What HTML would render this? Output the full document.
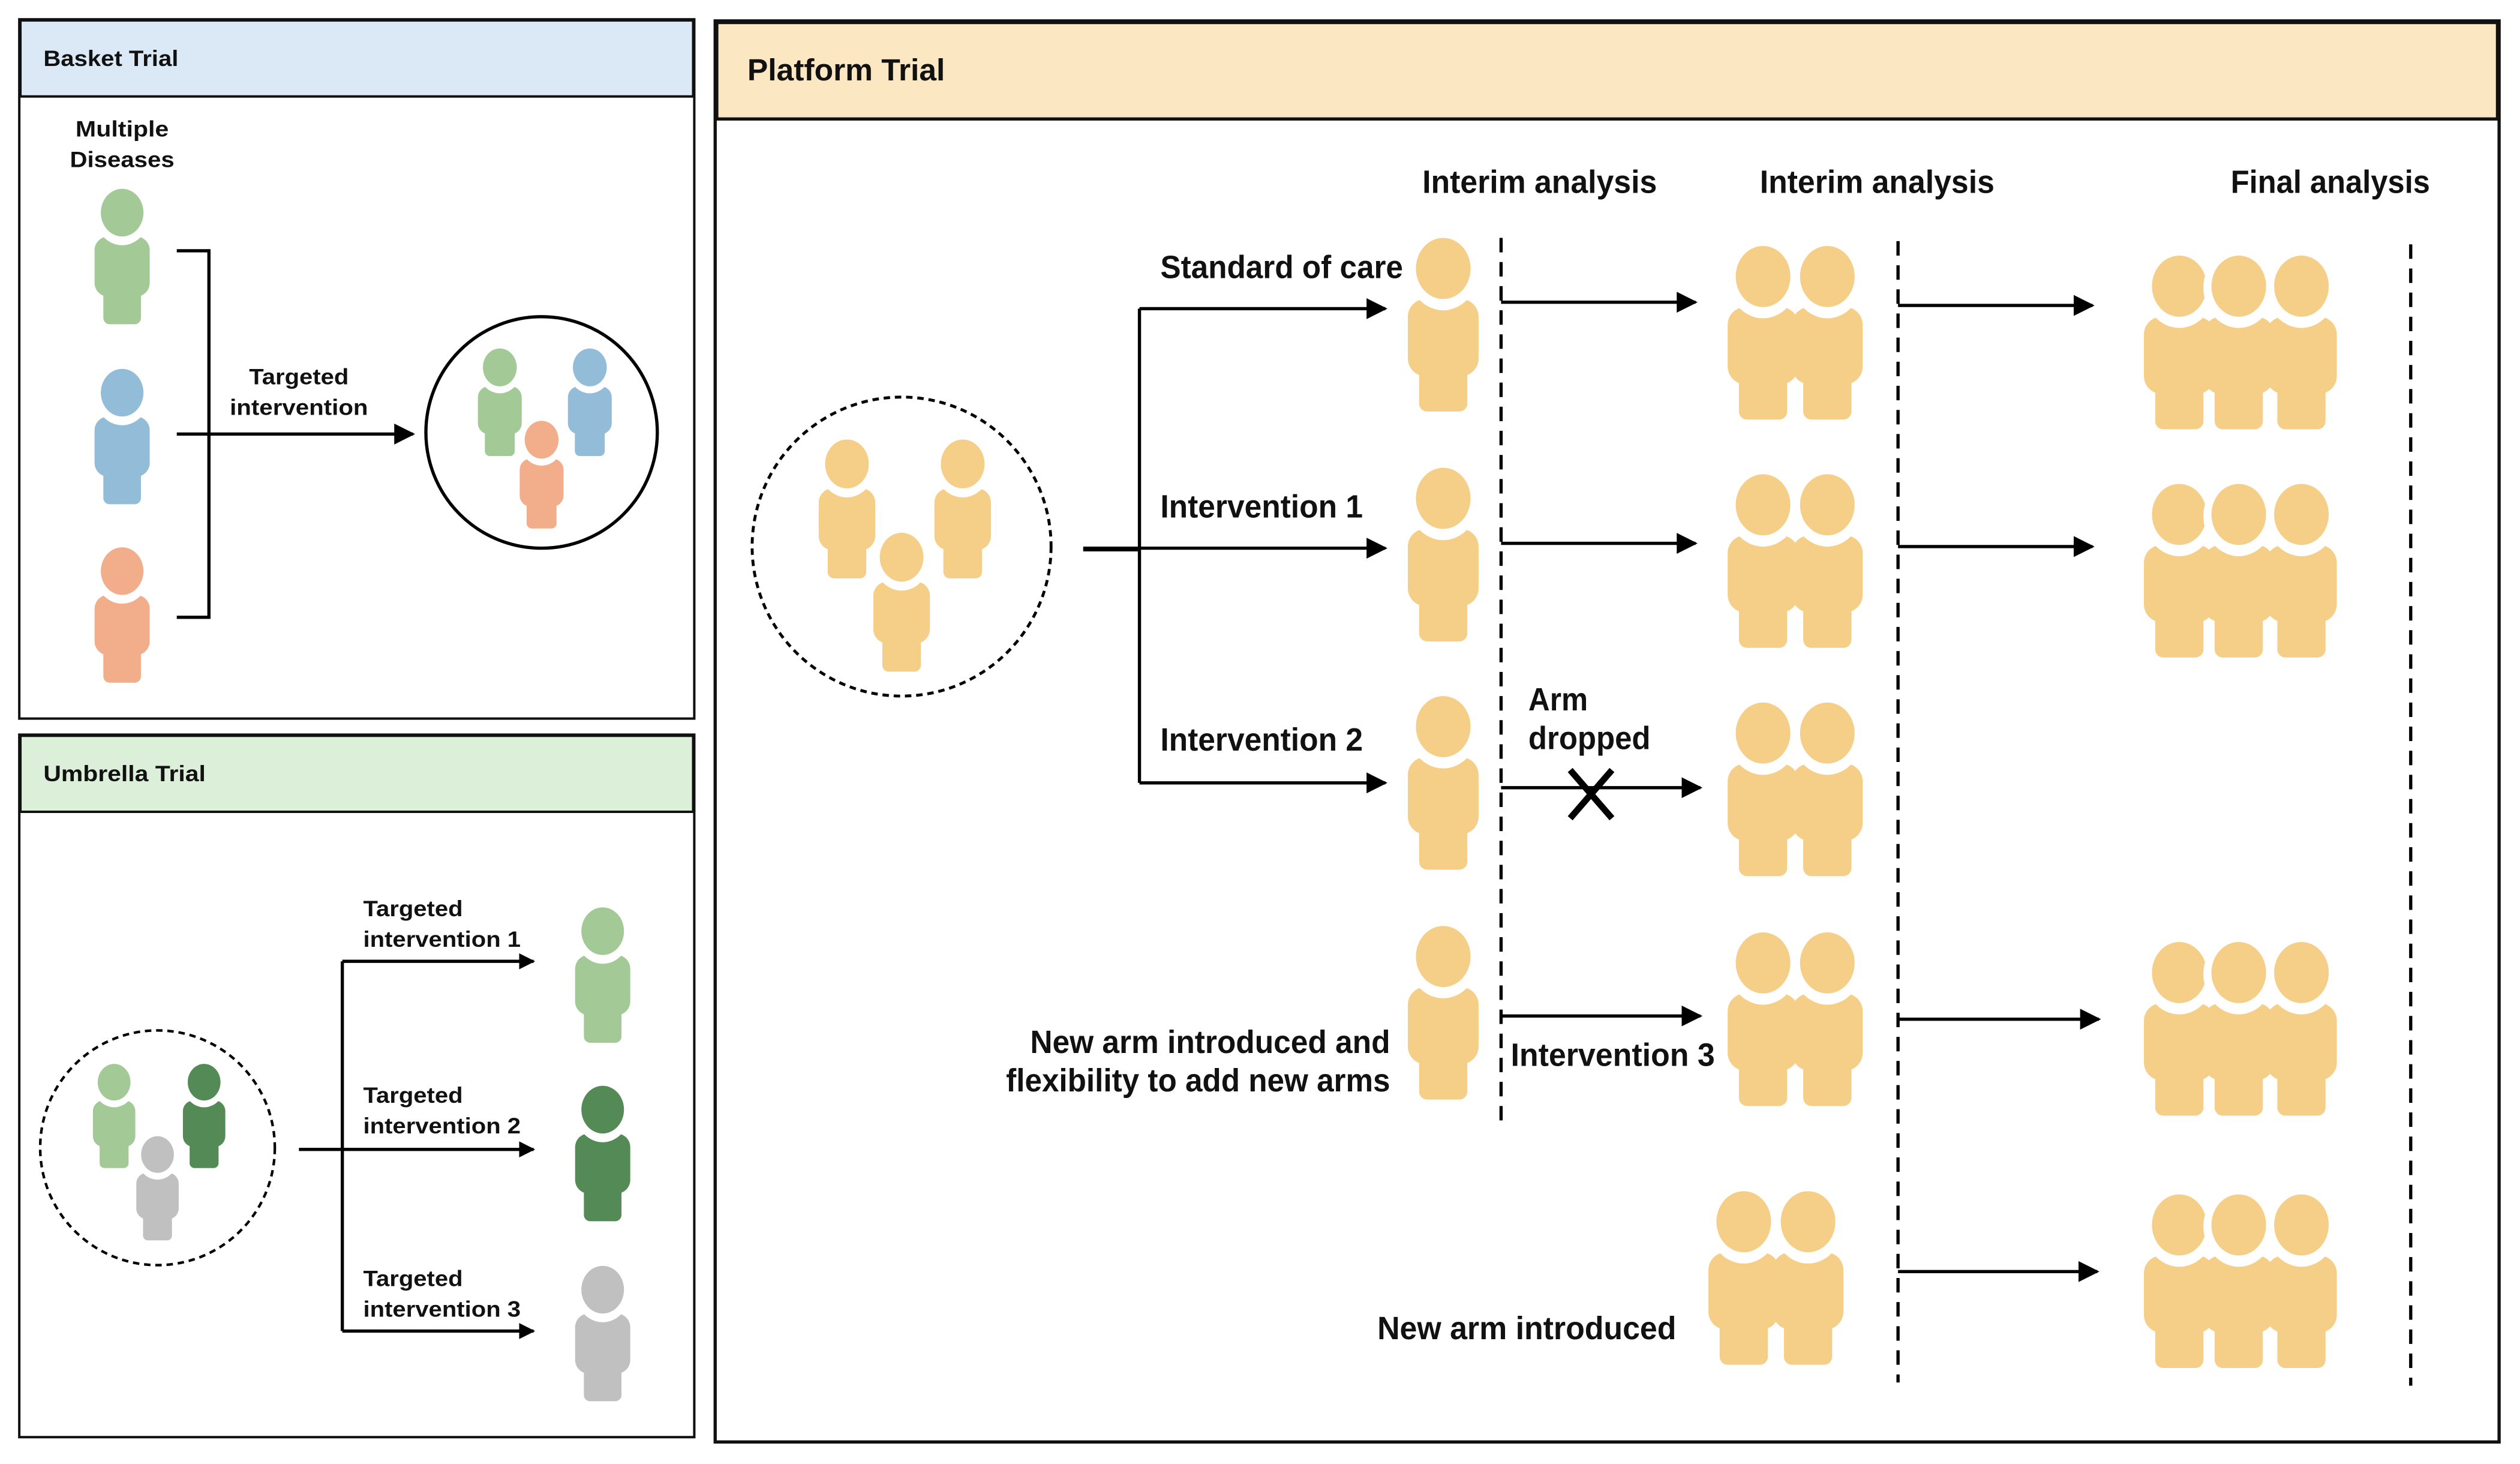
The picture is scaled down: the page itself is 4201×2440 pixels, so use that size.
<!DOCTYPE html>
<html><head><meta charset="utf-8"><style>html,body{margin:0;padding:0;background:#fff}svg{display:block}text{font-family:"Liberation Sans",sans-serif;font-weight:bold;fill:#111}</style></head>
<body>
<svg width="4201" height="2440" viewBox="0 0 1568 910.7" xmlns="http://www.w3.org/2000/svg">
<defs>
<g id="p">
<rect x="-22" y="36" width="44" height="48" rx="11"/>
<rect x="-15" y="56" width="30" height="50" rx="5"/>
<ellipse cx="0" cy="18" rx="22" ry="25" fill="#fff"/>
<ellipse cx="0" cy="17" rx="17" ry="19"/>
</g>
<marker id="A" viewBox="0 0 10 10" refX="9" refY="5" markerWidth="13" markerHeight="13" orient="auto" markerUnits="userSpaceOnUse"><path d="M0,0L10,5L0,10z" fill="#000"/></marker>
<marker id="a" viewBox="0 0 10 10" refX="9" refY="5" markerWidth="10" markerHeight="10" orient="auto" markerUnits="userSpaceOnUse"><path d="M0,0L10,5L0,10z" fill="#000"/></marker>
</defs>
<rect width="1568" height="910.7" fill="#fff"/>

<!-- Basket -->
<rect x="12" y="12" width="420" height="435" fill="#fff" stroke="#111" stroke-width="1.5"/>
<rect x="12.7" y="12.7" width="418.6" height="47.3" fill="#dbe9f6" stroke="#111" stroke-width="1.5"/>
<text x="27" y="41" font-size="14" textLength="84" lengthAdjust="spacingAndGlyphs">Basket Trial</text>
<text x="76" y="85" font-size="14" text-anchor="middle" textLength="58" lengthAdjust="spacingAndGlyphs">Multiple</text>
<text x="76" y="104" font-size="14" text-anchor="middle" textLength="65" lengthAdjust="spacingAndGlyphs">Diseases</text>
<g fill="#a3c996" transform="translate(76,119) scale(.78)"><use href="#p"/></g>
<g fill="#93bcd8" transform="translate(76,231) scale(.78)"><use href="#p"/></g>
<g fill="#f2ae8b" transform="translate(76,342) scale(.78)"><use href="#p"/></g>
<path d="M110,156H130V384H110" fill="none" stroke="#000" stroke-width="2"/>
<line x1="110" y1="270" x2="257" y2="270" stroke="#000" stroke-width="2" marker-end="url(#A)"/>
<text x="186" y="239" font-size="14" text-anchor="middle" textLength="62" lengthAdjust="spacingAndGlyphs">Targeted</text>
<text x="186" y="258" font-size="14" text-anchor="middle" textLength="86" lengthAdjust="spacingAndGlyphs">intervention</text>
<circle cx="337" cy="269" r="72" fill="#fff" stroke="#000" stroke-width="2"/>
<g fill="#a3c996" transform="translate(311,218) scale(.62)"><use href="#p"/></g>
<g fill="#93bcd8" transform="translate(367,218) scale(.62)"><use href="#p"/></g>
<g fill="#f2ae8b" transform="translate(337,263) scale(.62)"><use href="#p"/></g>

<!-- Umbrella -->
<rect x="12" y="457" width="420" height="437" fill="#fff" stroke="#111" stroke-width="1.5"/>
<rect x="12.7" y="457.7" width="418.6" height="47.3" fill="#dcefd9" stroke="#111" stroke-width="1.5"/>
<text x="27" y="486" font-size="14" textLength="101" lengthAdjust="spacingAndGlyphs">Umbrella Trial</text>
<circle cx="98" cy="714" r="73" fill="#fff" stroke="#000" stroke-width="1.6" stroke-dasharray="4,3"/>
<g fill="#a3c996" transform="translate(71,663) scale(.6)"><use href="#p"/></g>
<g fill="#548a55" transform="translate(127,663) scale(.6)"><use href="#p"/></g>
<g fill="#c0c0c0" transform="translate(98,708) scale(.6)"><use href="#p"/></g>
<path d="M213,598V828" stroke="#000" stroke-width="2" fill="none"/>
<line x1="213" y1="598" x2="332" y2="598" stroke="#000" stroke-width="2" marker-end="url(#a)"/>
<line x1="186" y1="715" x2="332" y2="715" stroke="#000" stroke-width="2" marker-end="url(#a)"/>
<line x1="213" y1="828" x2="332" y2="828" stroke="#000" stroke-width="2" marker-end="url(#a)"/>
<g font-size="14">
<text x="226" y="570" textLength="62" lengthAdjust="spacingAndGlyphs">Targeted</text><text x="226" y="589" textLength="98" lengthAdjust="spacingAndGlyphs">intervention 1</text>
<text x="226" y="686" textLength="62" lengthAdjust="spacingAndGlyphs">Targeted</text><text x="226" y="705" textLength="98" lengthAdjust="spacingAndGlyphs">intervention 2</text>
<text x="226" y="800" textLength="62" lengthAdjust="spacingAndGlyphs">Targeted</text><text x="226" y="819" textLength="98" lengthAdjust="spacingAndGlyphs">intervention 3</text>
</g>
<g fill="#a3c996" transform="translate(375,566) scale(.78)"><use href="#p"/></g>
<g fill="#548a55" transform="translate(375,677) scale(.78)"><use href="#p"/></g>
<g fill="#c0c0c0" transform="translate(375,789) scale(.78)"><use href="#p"/></g>

<!-- Platform -->
<rect x="445" y="13" width="1110" height="884" fill="#fff" stroke="#111" stroke-width="2"/>
<rect x="446" y="14" width="1108" height="60" fill="#fbe7c2" stroke="#111" stroke-width="2"/>
<text x="465" y="50" font-size="19" textLength="123" lengthAdjust="spacingAndGlyphs">Platform Trial</text>
<g font-size="20">
<text x="958" y="120" text-anchor="middle" textLength="146" lengthAdjust="spacingAndGlyphs">Interim analysis</text>
<text x="1168" y="120" text-anchor="middle" textLength="146" lengthAdjust="spacingAndGlyphs">Interim analysis</text>
<text x="1450" y="120" text-anchor="middle" textLength="124" lengthAdjust="spacingAndGlyphs">Final analysis</text>
</g>
<g stroke="#000" stroke-width="2" stroke-dasharray="9,6">
<line x1="934" y1="148" x2="934" y2="700"/>
<line x1="1181" y1="150" x2="1181" y2="860"/>
<line x1="1500" y1="152" x2="1500" y2="862"/>
</g>
<circle cx="561" cy="340" r="93" fill="#fff" stroke="#000" stroke-width="1.8" stroke-dasharray="4,3"/>
<g fill="#f5cf87">
<g transform="translate(527,275) scale(.8)"><use href="#p"/></g>
<g transform="translate(599,275) scale(.8)"><use href="#p"/></g>
<g transform="translate(561,333) scale(.8)"><use href="#p"/></g>
</g>
<path d="M674,342H709M709,192V487" stroke="#000" stroke-width="2" fill="none"/>
<g stroke="#000" stroke-width="2">
<line x1="709" y1="192" x2="862" y2="192" marker-end="url(#A)"/>
<line x1="674" y1="341" x2="862" y2="341" marker-end="url(#A)"/>
<line x1="709" y1="487" x2="862" y2="487" marker-end="url(#A)"/>
<line x1="934" y1="188" x2="1055" y2="188" marker-end="url(#A)"/>
<line x1="934" y1="338" x2="1055" y2="338" marker-end="url(#A)"/>
<line x1="934" y1="490" x2="1058" y2="490" marker-end="url(#A)"/>
<line x1="934" y1="632" x2="1058" y2="632" marker-end="url(#A)"/>
<line x1="1181" y1="190" x2="1302" y2="190" marker-end="url(#A)"/>
<line x1="1181" y1="340" x2="1302" y2="340" marker-end="url(#A)"/>
<line x1="1181" y1="634" x2="1306" y2="634" marker-end="url(#A)"/>
<line x1="1181" y1="791" x2="1305" y2="791" marker-end="url(#A)"/>
</g>
<path d="M977,479L1003,509M1003,479L977,509" stroke="#000" stroke-width="4"/>
<g font-size="20">
<text x="722" y="173" textLength="151" lengthAdjust="spacingAndGlyphs">Standard of care</text>
<text x="722" y="322" textLength="126" lengthAdjust="spacingAndGlyphs">Intervention 1</text>
<text x="722" y="467" textLength="126" lengthAdjust="spacingAndGlyphs">Intervention 2</text>
<text x="951" y="442" textLength="37" lengthAdjust="spacingAndGlyphs">Arm</text>
<text x="951" y="466" textLength="76" lengthAdjust="spacingAndGlyphs">dropped</text>
<text x="940" y="663" textLength="127" lengthAdjust="spacingAndGlyphs">Intervention 3</text>
<text x="641" y="655" textLength="224" lengthAdjust="spacingAndGlyphs">New arm introduced and</text>
<text x="626" y="679" textLength="239" lengthAdjust="spacingAndGlyphs">flexibility to add new arms</text>
<text x="857" y="833" textLength="186" lengthAdjust="spacingAndGlyphs">New arm introduced</text>
</g>
<g fill="#f5cf87">
<g transform="translate(898,150)"><use href="#p"/></g>
<g transform="translate(898,293)"><use href="#p"/></g>
<g transform="translate(898,435)"><use href="#p"/></g>
<g transform="translate(898,578)"><use href="#p"/></g>
<g transform="translate(1097,155)"><use href="#p"/></g><g transform="translate(1137,155)"><use href="#p"/></g>
<g transform="translate(1097,297)"><use href="#p"/></g><g transform="translate(1137,297)"><use href="#p"/></g>
<g transform="translate(1097,439)"><use href="#p"/></g><g transform="translate(1137,439)"><use href="#p"/></g>
<g transform="translate(1097,582)"><use href="#p"/></g><g transform="translate(1137,582)"><use href="#p"/></g>
<g transform="translate(1085,743)"><use href="#p"/></g><g transform="translate(1125,743)"><use href="#p"/></g>
<g transform="translate(1356,161)"><use href="#p"/></g><g transform="translate(1393,161)"><use href="#p"/></g><g transform="translate(1432,161)"><use href="#p"/></g>
<g transform="translate(1356,303)"><use href="#p"/></g><g transform="translate(1393,303)"><use href="#p"/></g><g transform="translate(1432,303)"><use href="#p"/></g>
<g transform="translate(1356,588)"><use href="#p"/></g><g transform="translate(1393,588)"><use href="#p"/></g><g transform="translate(1432,588)"><use href="#p"/></g>
<g transform="translate(1356,745)"><use href="#p"/></g><g transform="translate(1393,745)"><use href="#p"/></g><g transform="translate(1432,745)"><use href="#p"/></g>
</g>
</svg>
</body></html>
